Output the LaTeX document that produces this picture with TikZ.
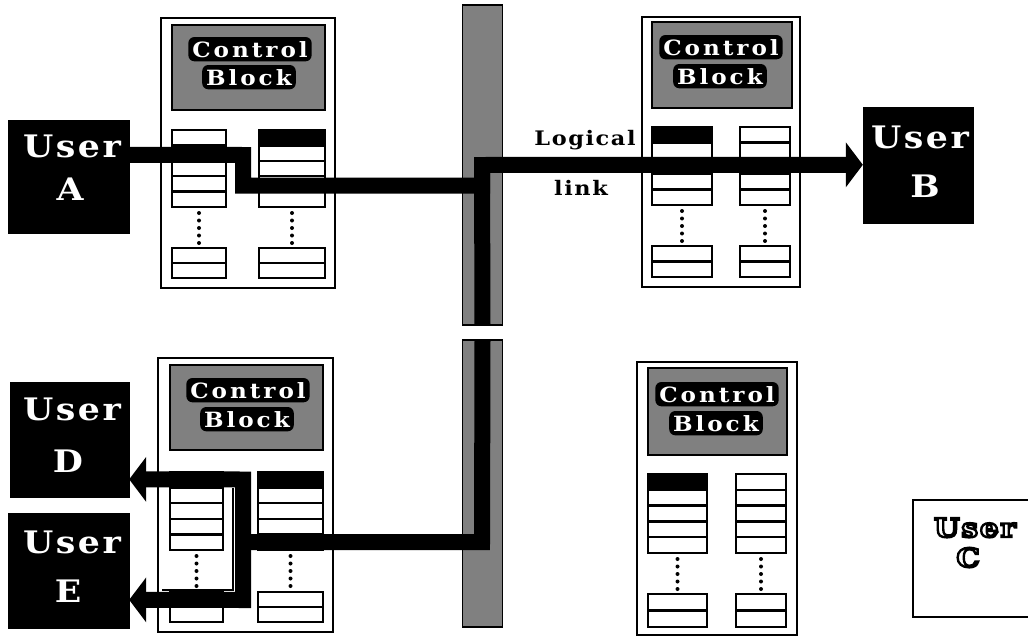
\documentclass[tikz,border=0pt]{standalone}
\usepackage{fontspec}
\usetikzlibrary{arrows.meta,calc}
\newfontfamily\uf[LetterSpace=8,FakeStretch=1.12]{DejaVu Serif}
\newfontfamily\cf[LetterSpace=14,FakeStretch=1.1]{DejaVu Serif}
\newcommand\outl[1]{\special{pdf:literal direct 1 Tr 2.4 w 0 G}#1\special{pdf:literal direct 0 Tr}}
\newcommand\colstack[6]{%
  \foreach \i in {0,...,4} {\draw[row] (#1,{#3+\i*(#4-#3)/5}) rectangle (#2,{#3+(\i+1)*(#4-#3)/5});}
  \foreach \i in {0,1} {\draw[row] (#1,{#5+\i*(#6-#5)/2}) rectangle (#2,{#5+(\i+1)*(#6-#5)/2});}
  \draw[dotcol] ({(#1+#2)/2},{#4+6}) -- ({(#1+#2)/2},{#5-3});
}
\tikzset{
  ubox/.style={fill=black, draw=black, inner sep=0pt},
  utext/.style={text=white, font=\uf\bfseries\fontsize{31}{31}\selectfont, inner sep=0pt},
  ctext/.style={text=white, fill=black, rounded corners=6pt, inner xsep=4pt, inner ysep=4pt,
    font=\cf\bfseries\fontsize{21}{21}\selectfont},
  cont/.style={draw=black, line width=2.4pt, fill=white, inner sep=0pt},
  cblock/.style={draw=black, line width=2.4pt, fill=black!50, inner sep=0pt},
  row/.style={draw=black, line width=2.3pt, fill=white},
  dotcol/.style={line width=4pt, line cap=round, dash pattern=on 0pt off 7.5pt},
  link/.style={line width=16pt, draw=black, line join=miter},
  tip/.style={-{Triangle[length=17pt,width=45pt,line width=0pt]}},
  bus/.style={draw=black, line width=1.8pt, fill=black!50, inner sep=0pt},
  lbl/.style={font=\uf\bfseries\fontsize{20}{20}\selectfont, inner sep=0pt},
  ctxt/.style={font=\uf\bfseries\fontsize{26}{26}\selectfont, inner sep=0pt},
}
\begin{document}
\begin{tikzpicture}[x=1pt,y=-1pt]
\useasboundingbox (0,0) rectangle (1028,637);
\clip (0,0) rectangle (1028,637);
\fill[white] (0,0) rectangle (1028,637);

% bus
\node[bus, minimum width=40pt, minimum height=320pt] (bus1) at (482.5,165) {};
\node[bus, minimum width=40pt, minimum height=287pt] (bus2) at (482.5,483.5) {};

% containers
\node[cont, minimum width=174pt, minimum height=270pt] (contTL) at (248,153) {};
\node[cont, minimum width=158pt, minimum height=270pt] (contTR) at (721,152) {};
\node[cont, minimum width=175pt, minimum height=274pt] (contBL) at (245.5,495) {};
\node[cont, minimum width=160pt, minimum height=273pt] (contBR) at (717,498.5) {};

% control blocks
\node[cblock, minimum width=153pt, minimum height=85pt] (cbTL) at (248.5,67.5) {};
\node[cblock, minimum width=140pt, minimum height=86pt] (cbTR) at (722,65) {};
\node[cblock, minimum width=153pt, minimum height=85pt] (cbBL) at (246.5,407.5) {};
\node[cblock, minimum width=139pt, minimum height=87pt] (cbBR) at (717.5,411.5) {};

\node[ctext, anchor=base] (cbTLa) at (250,57) {Control};
\node[ctext, anchor=base] (cbTLb) at (249,85) {Block};
\node[ctext, anchor=base] (cbTRa) at (721,55) {Control};
\node[ctext, anchor=base] (cbTRb) at (720,84) {Block};
\node[ctext, anchor=base] (cbBLa) at (248,398) {Control};
\node[ctext, anchor=base] (cbBLb) at (247,427) {Block};
\node[ctext, anchor=base] (cbBRa) at (717,402) {Control};
\node[ctext, anchor=base] (cbBRb) at (716,431) {Block};

% stacks
\colstack{172}{226}{130}{207}{248}{278}
\colstack{259}{325}{130}{207}{248}{278}
\fill[black] (259,130) rectangle (325,145.4);
\colstack{652}{712}{127}{205}{246}{277}
\colstack{740}{790}{127}{205}{246}{277}
\fill[black] (652,127) rectangle (712,142.6);
\colstack{170}{223}{472}{550}{592}{622}
\colstack{258}{323}{472}{550}{592}{622}
\fill[black] (258,472) rectangle (323,487.6);
\colstack{648}{707}{474}{553}{594}{627}
\colstack{736}{786}{474}{553}{594}{627}
\fill[black] (648,474) rectangle (707,489.8);
\draw[line width=1.8pt] (162,590) -- (233,590) -- (233,488);

% users
\node[ubox, minimum width=121pt, minimum height=113pt] (userA) at (68.5,176.5) {};
\node[ubox, minimum width=110pt, minimum height=116pt] (userB) at (918,165) {};
\node[ubox, minimum width=119pt, minimum height=115pt] (userD) at (69.5,439.5) {};
\node[ubox, minimum width=121pt, minimum height=115pt] (userE) at (68.5,570.5) {};
\node[draw=black, line width=2.4pt, fill=white, minimum width=122pt, minimum height=117pt] (userC) at (974,558.5) {};

% links
\coordinate (a1) at (243,155);
\coordinate (a2) at (243,185.5);
\coordinate (a3) at (482,185.5);
\coordinate (a4) at (482,165);
\draw[link, tip] ($(userA.north east)+(0,35)$) -- (a1) -- (a2) -- (a3) -- (a4) -- ($(userB.north west)+(0,58)$);
\draw[link] (a4) -- (bus1.south);
\coordinate (d1) at (482,542);
\coordinate (d2) at (243,542);
\coordinate (d3) at (243,479.5);
\coordinate (d4) at (243,600);
\draw[link] (bus2.north) -- (d1) -- (d2);
\draw[link, tip] (d2) -- (d3) -- ($(userD.north east)+(0,97.5)$);
\draw[link, tip] (d2) -- (d4) -- ($(userE.north east)+(0,87)$);

% user texts
\node[utext, anchor=base] (userAname) at (72,157) {User};
\node[utext, anchor=base] (userAid) at (70,200) {A};
\node[utext, anchor=base] (userBname) at (920,148) {User};
\node[utext, anchor=base] (userBid) at (925,197) {B};
\node[utext, anchor=base] (userDname) at (72,420) {User};
\node[utext, anchor=base] (userDid) at (68,472) {D};
\node[utext, anchor=base] (userEname) at (72,553) {User};
\node[utext, anchor=base] (userEid) at (68,602) {E};
\node[ctxt, anchor=base] (userCname) at (975,537) {\outl{User}};
\node[ctxt, anchor=base] (userCid) at (968,567) {\outl{C}};

% labels
\node[lbl, anchor=base] (logical) at (585,145) {Logical};
\node[lbl, anchor=base] (linklbl) at (581,195) {link};
\end{tikzpicture}
\end{document}
